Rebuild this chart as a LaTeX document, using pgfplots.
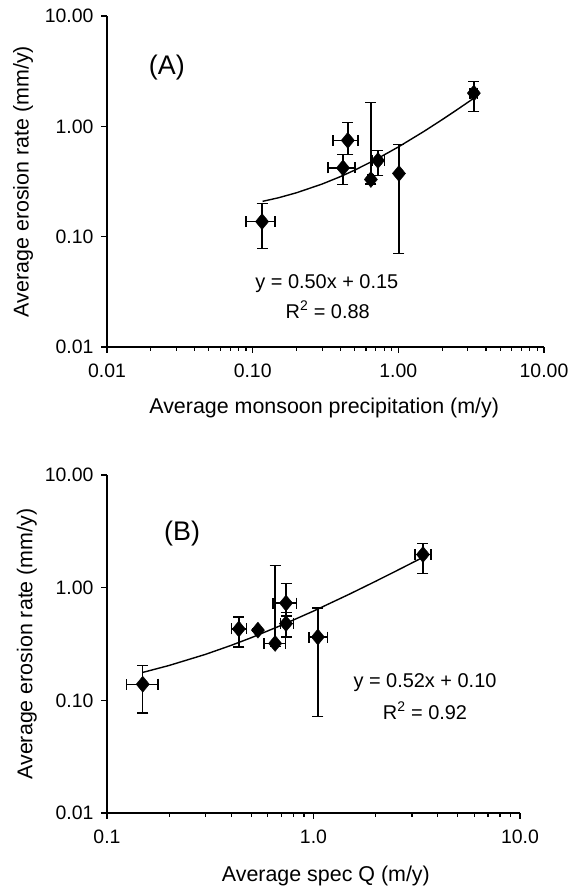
\documentclass[border=0pt]{standalone}
\usepackage{fontspec}
\setmainfont{Liberation Sans}
\usepackage{pgfplots}
\pgfplotsset{compat=1.18}
\usepackage{pgfplotstable}

% x y xm xp ym yp  (errors as minus / plus amounts)
\pgfplotstableread{
x     y     xm     xp     ym     yp
0.116 0.137 0.026  0.026  0.059  0.063
0.45  0.746 0.094  0.078  0.19   0.344
0.417 0.42  0.088  0.087  0.123  0.136
0.648 0.33  0.03   0.03   0.03   1.32
0.725 0.49  0.065  0.075  0.13   0.115
1.01  0.374 0.02   0.02   0.304  0.312
3.3   2.0   0.2    0.2    0.63   0.56
}\dataA

\pgfplotstableread{
x     y     xm     xp     ym     yp
0.149 0.139 0.025  0.028  0.062  0.066
0.435 0.43  0.035  0.04   0.133  0.12
0.538 0.42  0.01   0.01   0.01   0.01
0.652 0.32  0.077  0.078  0.02   1.25
0.736 0.73  0.10   0.094  0.17   0.36
0.736 0.48  0.046  0.064  0.115  0.12
1.05  0.365 0.10   0.12   0.293  0.295
3.39  1.97  0.29   0.31   0.64   0.50
}\dataB

\begin{document}
\begin{tikzpicture}
\path[use as bounding box] (-107bp,-541bp) rectangle (463bp,347bp);

% panel A
\begin{axis}[
  xmode=log, ymode=log,
  scale only axis,
  at={(0,0)}, anchor=south west,
  width=437bp, height=331bp,
  axis x line*=bottom, axis y line*=left,
  axis line style={line width=1.3bp, black},
  tick align=outside,
  major tick length=6bp, minor tick length=4bp,
  tick style={black, line width=1.1bp},
  yminorticks=false,
  xmin=0.01, xmax=10, ymin=0.01, ymax=10,
  xtick={0.01,0.1,1,10},
  xticklabels={0.01,0.10,1.00,10.00},
  ytick={0.01,0.1,1,10},
  yticklabels={0.01,0.10,1.00,10.00},
  tick label style={font=\fontsize{19.5}{24}\selectfont},
  xticklabel style={yshift=-7bp},
  yticklabel style={xshift=-4bp},
  clip=false,
  xlabel={Average monsoon precipitation (m/y)},
  ylabel={Average erosion rate (mm/y)},
  xlabel style={font=\fontsize{21.5}{26}\selectfont, at={(rel axis cs:0.497,-0.184)}, anchor=center},
  ylabel style={font=\fontsize{21.5}{26}\selectfont, at={(rel axis cs:-0.192,0.5)}, anchor=center},
]
\addplot[black, line width=1.4bp] coordinates {
  (0.117,0.209)(0.15,0.225)(0.2,0.25)(0.3,0.30)(0.4,0.35)(0.5,0.40)
  (0.7,0.50)(1.0,0.65)(1.5,0.90)(2.0,1.15)(2.5,1.40)(3.0,1.65)(3.3,1.80)
};
\addplot[only marks, mark=diamond*, mark size=8bp, mark options={xscale=1.1}, black,
  error bars/.cd, x dir=both, x explicit, y dir=both, y explicit,
  error mark=|,
  error bar style={line width=1.4bp, black},
  error mark options={line width=1.4bp, black, mark size=5.5bp}]
  table[x=x, y=y, x error minus=xm, x error plus=xp,
  y error minus=ym, y error plus=yp] {\dataA};
\node[font=\fontsize{27}{30}\selectfont] at (rel axis cs:0.137,0.843) {(A)};
\node[font=\fontsize{20}{24}\selectfont] at (rel axis cs:0.503,0.193) {y = 0.50x + 0.15};
\node[font=\fontsize{20}{24}\selectfont] at (rel axis cs:0.505,0.112) {R\textsuperscript{2} = 0.88};
\end{axis}

% panel B
\begin{axis}[
  xmode=log, ymode=log,
  scale only axis,
  at={(0,-466bp)}, anchor=south west,
  width=413bp, height=338bp,
  axis x line*=bottom, axis y line*=left,
  axis line style={line width=1.3bp, black},
  tick align=outside,
  major tick length=6bp, minor tick length=4bp,
  tick style={black, line width=1.1bp},
  yminorticks=false,
  xmin=0.1, xmax=10, ymin=0.01, ymax=10,
  xtick={0.1,1,10},
  xticklabels={0.1,1.0,10.0},
  ytick={0.01,0.1,1,10},
  yticklabels={0.01,0.10,1.00,10.00},
  tick label style={font=\fontsize{19.5}{24}\selectfont},
  xticklabel style={yshift=-7bp},
  yticklabel style={xshift=-4bp},
  clip=false,
  xlabel={Average spec Q (m/y)},
  ylabel={Average erosion rate (mm/y)},
  xlabel style={font=\fontsize{21.5}{26}\selectfont, at={(rel axis cs:0.530,-0.186)}, anchor=center},
  ylabel style={font=\fontsize{21.5}{26}\selectfont, at={(rel axis cs:-0.194,0.5)}, anchor=center},
]
\addplot[black, line width=1.4bp] coordinates {
  (0.149,0.177)(0.2,0.204)(0.3,0.256)(0.4,0.308)(0.5,0.36)(0.7,0.464)
  (1.0,0.62)(1.5,0.88)(2.0,1.14)(2.5,1.40)(3.0,1.66)(3.39,1.86)
};
\addplot[only marks, mark=diamond*, mark size=8bp, mark options={xscale=1.1}, black,
  error bars/.cd, x dir=both, x explicit, y dir=both, y explicit,
  error mark=|,
  error bar style={line width=1.4bp, black},
  error mark options={line width=1.4bp, black, mark size=5.5bp}]
  table[x=x, y=y, x error minus=xm, x error plus=xp,
  y error minus=ym, y error plus=yp] {\dataB};
\node[font=\fontsize{27}{30}\selectfont] at (rel axis cs:0.182,0.828) {(B)};
\node[font=\fontsize{20}{24}\selectfont] at (rel axis cs:0.770,0.385) {y = 0.52x + 0.10};
\node[font=\fontsize{20}{24}\selectfont] at (rel axis cs:0.770,0.302) {R\textsuperscript{2} = 0.92};
\end{axis}
\end{tikzpicture}
\end{document}
